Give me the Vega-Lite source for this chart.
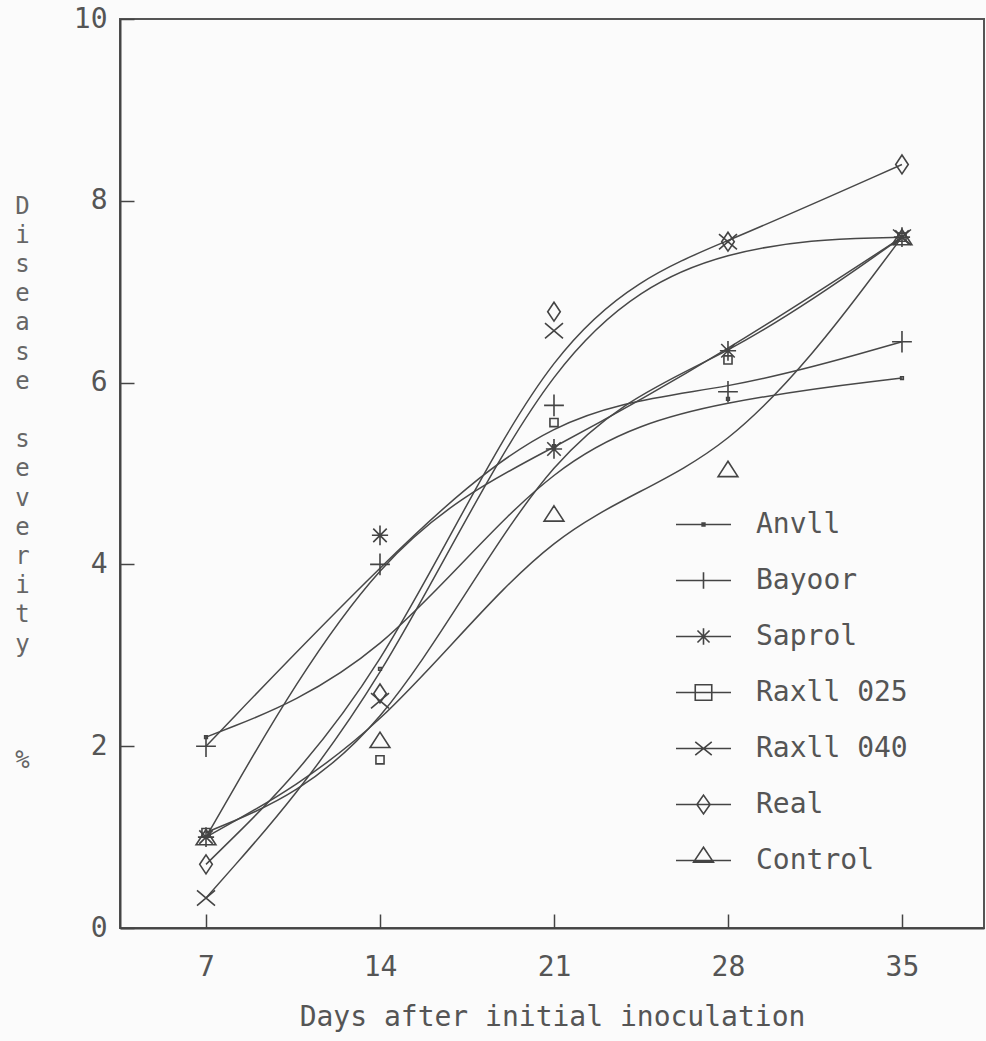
{
  "$schema": "https://vega.github.io/schema/vega-lite/v6.json",
  "width": 864,
  "height": 909,
  "autosize": {"type": "none"},
  "padding": {"left": 120, "top": 19, "right": 2, "bottom": 113},
  "background": "#fbfbfb",
  "config": {
    "font": "DejaVu Sans Mono",
    "view": {"stroke": "#555", "strokeWidth": 2}
  },
  "data": {
    "values": [
      {"treatment": "Anvll", "day": 7, "severity": 2.1},
      {"treatment": "Anvll", "day": 14, "severity": 2.85},
      {"treatment": "Anvll", "day": 21, "severity": 5.3},
      {"treatment": "Anvll", "day": 28, "severity": 5.82},
      {"treatment": "Anvll", "day": 35, "severity": 6.05},
      {"treatment": "Bayoor", "day": 7, "severity": 2.0},
      {"treatment": "Bayoor", "day": 14, "severity": 4.0},
      {"treatment": "Bayoor", "day": 21, "severity": 5.75},
      {"treatment": "Bayoor", "day": 28, "severity": 5.9},
      {"treatment": "Bayoor", "day": 35, "severity": 6.45},
      {"treatment": "Saprol", "day": 7, "severity": 1.0},
      {"treatment": "Saprol", "day": 14, "severity": 4.32},
      {"treatment": "Saprol", "day": 21, "severity": 5.27},
      {"treatment": "Saprol", "day": 28, "severity": 6.35},
      {"treatment": "Saprol", "day": 35, "severity": 7.6},
      {"treatment": "Raxll 025", "day": 7, "severity": 1.05},
      {"treatment": "Raxll 025", "day": 14, "severity": 1.85},
      {"treatment": "Raxll 025", "day": 21, "severity": 5.56},
      {"treatment": "Raxll 025", "day": 28, "severity": 6.25},
      {"treatment": "Raxll 025", "day": 35, "severity": 7.6},
      {"treatment": "Raxll 040", "day": 7, "severity": 0.33},
      {"treatment": "Raxll 040", "day": 14, "severity": 2.5},
      {"treatment": "Raxll 040", "day": 21, "severity": 6.57},
      {"treatment": "Raxll 040", "day": 28, "severity": 7.55},
      {"treatment": "Raxll 040", "day": 35, "severity": 7.6},
      {"treatment": "Real", "day": 7, "severity": 0.7},
      {"treatment": "Real", "day": 14, "severity": 2.58},
      {"treatment": "Real", "day": 21, "severity": 6.78},
      {"treatment": "Real", "day": 28, "severity": 7.55},
      {"treatment": "Real", "day": 35, "severity": 8.4},
      {"treatment": "Control", "day": 7, "severity": 1.0},
      {"treatment": "Control", "day": 14, "severity": 2.07},
      {"treatment": "Control", "day": 21, "severity": 4.56},
      {"treatment": "Control", "day": 28, "severity": 5.05},
      {"treatment": "Control", "day": 35, "severity": 7.6}
    ]
  },
  "encoding": {
    "x": {
      "field": "day",
      "type": "quantitative",
      "scale": {"domain": [3.54, 38.3], "nice": false, "zero": false},
      "axis": {
        "values": [7, 14, 21, 28, 35],
        "grid": false,
        "tickSize": -14,
        "tickColor": "#444",
        "tickWidth": 1.5,
        "domainColor": "#444",
        "domainWidth": 2,
        "labelFont": "DejaVu Sans Mono",
        "labelFontSize": 28,
        "labelColor": "#555",
        "labelPadding": 39,
        "title": "Days after initial inoculation",
        "titleFont": "DejaVu Sans Mono",
        "titleFontSize": 28,
        "titleFontWeight": "normal",
        "titleColor": "#555",
        "titleY": 97,
        "titleBaseline": "alphabetic"
      }
    },
    "y": {
      "field": "severity",
      "type": "quantitative",
      "scale": {"domain": [0, 10], "nice": false},
      "axis": {
        "values": [0, 2, 4, 6, 8, 10],
        "grid": false,
        "tickSize": -14,
        "tickColor": "#444",
        "tickWidth": 1.5,
        "domainColor": "#444",
        "domainWidth": 2,
        "labelFont": "DejaVu Sans Mono",
        "labelFontSize": 28,
        "labelColor": "#555",
        "labelPadding": 27,
        "title": ["D", "i", "s", "e", "a", "s", "e", "\u2800", "s", "e", "v", "e", "r", "i", "t", "y", "\u2800", "\u2800", "\u2800", "%"],
        "titleFont": "DejaVu Sans Mono",
        "titleFontSize": 24,
        "titleFontWeight": "normal",
        "titleColor": "#666",
        "titleAngle": 0,
        "titleAlign": "center",
        "titleBaseline": "alphabetic",
        "titleLineHeight": 29.2,
        "titleX": -98,
        "titleY": 194
      }
    }
  },
  "layer": [
    {
      "mark": {"type": "line", "interpolate": "basis", "color": "#484848", "strokeWidth": 1.5},
      "encoding": {"detail": {"field": "treatment", "type": "nominal"}}
    },
    {
      "mark": {"type": "point", "filled": false, "color": "#444", "strokeWidth": 1.6, "size": 324, "opacity": 1},
      "encoding": {
        "shape": {
          "field": "treatment",
          "type": "nominal",
          "scale": {
            "domain": ["Anvll", "Bayoor", "Saprol", "Raxll 025", "Raxll 040", "Real", "Control"],
            "range": [
              "M-0.15,-0.15H0.15V0.15H-0.15Z",
              "M-1.1,0H1.1M0,-1.2V1.2",
              "M-0.9,0H0.9M0,-1.1V1.1M-0.75,-0.75L0.75,0.75M-0.75,0.75L0.75,-0.75",
              "M-0.45,-0.45H0.45V0.45H-0.45Z",
              "M-1,-0.85L1,0.85M-1,0.85L1,-0.85",
              "M0,-1.05L0.7,0L0,1.05L-0.7,0Z",
              "M0,-0.85L1.1,0.85H-1.1Z"
            ]
          },
          "legend": null
        }
      }
    },
    {
      "mark": {"type": "point", "filled": false, "color": "#444", "opacity": 0},
      "encoding": {
        "shape": {
          "field": "treatment",
          "type": "nominal",
          "scale": {
            "domain": ["Anvll", "Bayoor", "Saprol", "Raxll 025", "Raxll 040", "Real", "Control"],
            "range": [
              "M-1,0H1M-0.05,-0.05H0.05V0.05H-0.05Z",
              "M-1,0H1M0,-0.3V0.3",
              "M-1,0H1M0,-0.3V0.3M-0.22,-0.22L0.22,0.22M-0.22,0.22L0.22,-0.22",
              "M-1,0H1M-0.3,-0.28H0.3V0.28H-0.3Z",
              "M-1,0H1M-0.3,-0.24L0.3,0.24M-0.3,0.24L0.3,-0.24",
              "M-1,0H1M0,-0.34L0.24,0L0,0.34L-0.24,0Z",
              "M-1,0H1M0,-0.48L0.36,0.06H-0.36Z"
            ]
          },
          "legend": {
            "orient": "none",
            "legendX": 555,
            "legendY": 477,
            "title": null,
            "padding": 0,
            "symbolSize": 3025,
            "symbolStrokeWidth": 1.6,
            "symbolStrokeColor": "#444",
            "symbolFillColor": "transparent",
            "symbolOpacity": 1,
            "labelFont": "DejaVu Sans Mono",
            "labelFontSize": 28,
            "labelColor": "#555",
            "labelOffset": 24,
            "rowPadding": 13,
            "labelLimit": 300
          }
        }
      }
    }
  ],
  "resolve": {"scale": {"shape": "independent"}, "legend": {"shape": "independent"}}
}
